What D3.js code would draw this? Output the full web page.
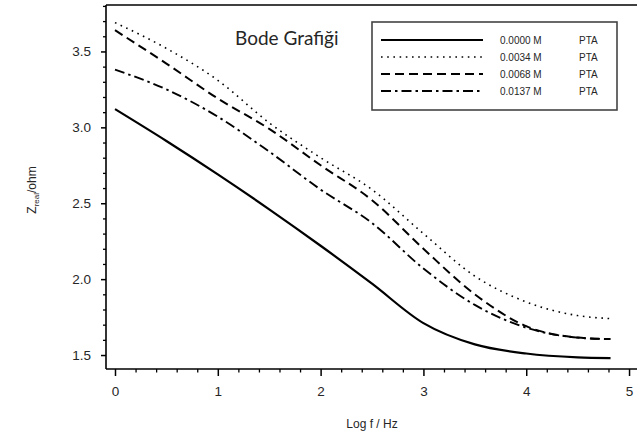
<!DOCTYPE html>
<html>
<head>
<meta charset="utf-8">
<script src="https://cdn.jsdelivr.net/npm/d3@7"></script>
<style>
  html, body { margin: 0; padding: 0; background: #fff; }
  svg { display: block; }
</style>
</head>
<body>
<svg id="chart" width="637" height="448"></svg>
<script>
// ---- data ----
const logF   = [0, 0.5, 1.0, 1.5, 2.0, 2.5, 3.0, 3.5, 4.0, 4.5, 4.82];
const z0000  = [3.12, 2.91, 2.69, 2.46, 2.22, 1.97, 1.71, 1.57, 1.51, 1.485, 1.48];
const z0034  = [3.69, 3.52, 3.31, 3.03, 2.80, 2.59, 2.30, 2.02, 1.85, 1.76, 1.74];
const z0068  = [3.64, 3.42, 3.19, 2.99, 2.75, 2.52, 2.20, 1.90, 1.69, 1.615, 1.605];
const z0137  = [3.38, 3.25, 3.07, 2.84, 2.59, 2.37, 2.07, 1.83, 1.68, 1.615, 1.605];
const seriesLabels = ["0.0000 M", "0.0034 M", "0.0068 M", "0.0137 M"];
const seriesUnit = "PTA";
const xTicks = [0, 1, 2, 3, 4, 5];
const yTicks = [1.5, 2.0, 2.5, 3.0, 3.5];
const title = "Bode Grafiği";
const xTitle = "Log f / Hz";

// ---- styling ----
const dashes = [null, "1.6,4.6", "9,5", "10,4,2.5,4"];
const widths = [2.2, 1.6, 2, 1.9];
const series = [z0000, z0034, z0068, z0137];

const svg = d3.select("#chart");
const x = d3.scaleLinear().domain([-0.0875, 5.2]).range([106, 649.6]);
const y = d3.scaleLinear().domain([1.408, 3.806]).range([369, 5]);

const textCol = "#262626";
const font = "Liberation Sans, Arial, sans-serif";

// bottom axis: minor then major ticks
const xMinor = d3.range(0, 5.21, 0.2).filter(v => Math.abs(v - Math.round(v)) > 1e-6);
svg.append("g").attr("transform", `translate(0,${y.range()[0]})`)
  .call(d3.axisBottom(x).tickValues(xMinor).tickSize(3.5).tickSizeOuter(0).tickFormat(""))
  .call(g => g.select(".domain").remove())
  .call(g => g.selectAll("line").attr("stroke", "#000").attr("stroke-width", 1.3));
svg.append("g").attr("transform", `translate(0,${y.range()[0]})`)
  .call(d3.axisBottom(x).tickValues(xTicks).tickSize(7).tickSizeOuter(0).tickPadding(10).tickFormat(d3.format("d")))
  .call(g => g.select(".domain").remove())
  .call(g => g.selectAll("line").attr("stroke", "#000").attr("stroke-width", 1.5))
  .call(g => g.selectAll("text").attr("font-family", font)
      .attr("font-size", 13.5).attr("fill", textCol));

// left axis: minor then major ticks
const yMinor = d3.range(1.5, 3.81, 0.1).filter(v => Math.abs(v * 2 - Math.round(v * 2)) > 1e-6);
svg.append("g").attr("transform", `translate(${x.range()[0]},0)`)
  .call(d3.axisLeft(y).tickValues(yMinor).tickSize(3).tickSizeOuter(0).tickFormat(""))
  .call(g => g.select(".domain").remove())
  .call(g => g.selectAll("line").attr("stroke", "#000").attr("stroke-width", 1.3));
svg.append("g").attr("transform", `translate(${x.range()[0]},0)`)
  .call(d3.axisLeft(y).tickValues(yTicks).tickSize(5).tickSizeOuter(0).tickPadding(10).tickFormat(d3.format(".1f")))
  .call(g => g.select(".domain").remove())
  .call(g => g.selectAll("line").attr("stroke", "#000").attr("stroke-width", 1.5))
  .call(g => g.selectAll("text").attr("font-family", font)
      .attr("font-size", 13.5).attr("fill", textCol));

// frame lines: left, bottom, top
const frame = svg.append("g").attr("stroke", "#000").attr("stroke-width", 1.6).attr("fill", "none");
frame.append("line").attr("x1", x.range()[0]).attr("x2", x.range()[0]).attr("y1", y.range()[1]).attr("y2", y.range()[0]);
frame.append("line").attr("x1", x.range()[0]).attr("x2", x.range()[1]).attr("y1", y.range()[0]).attr("y2", y.range()[0]);
frame.append("line").attr("x1", x.range()[0]).attr("x2", x.range()[1]).attr("y1", y.range()[1]).attr("y2", y.range()[1]);

// curves
const line = d3.line().x(d => x(d[0])).y(d => y(d[1])).curve(d3.curveMonotoneX);
series.forEach((s, i) => {
  svg.append("path")
    .datum(logF.map((f, j) => [f, s[j]]))
    .attr("d", line)
    .attr("fill", "none")
    .attr("stroke", "#000")
    .attr("stroke-width", widths[i])
    .attr("stroke-dasharray", dashes[i]);
});

// title
svg.append("text").attr("x", 235).attr("y", 45).text(title)
  .attr("font-family", "Lato, 'Open Sans', sans-serif").attr("font-size", 19).attr("fill", textCol);

// legend
const lg = svg.append("g");
lg.append("rect").attr("x", 372).attr("y", 22).attr("width", 245).attr("height", 88)
  .attr("fill", "#fff").attr("stroke", "#444").attr("stroke-width", 1.6);
series.forEach((s, i) => {
  const ry = 40 + i * 17;
  lg.append("line").attr("x1", 381).attr("x2", 483).attr("y1", ry).attr("y2", ry)
    .attr("stroke", "#000").attr("stroke-width", widths[i]).attr("stroke-dasharray", dashes[i]);
  lg.append("text").attr("x", 500).attr("y", ry).attr("dy", "0.35em").text(seriesLabels[i])
    .attr("font-family", font).attr("font-size", 10).attr("fill", textCol);
  lg.append("text").attr("x", 579).attr("y", ry).attr("dy", "0.35em").text(seriesUnit)
    .attr("font-family", font).attr("font-size", 10).attr("fill", textCol);
});

// axis titles
svg.append("text").attr("x", (x(0) + x(5)) / 2).attr("y", 428).attr("text-anchor", "middle").text(xTitle)
  .attr("font-family", font).attr("font-size", 12).attr("fill", textCol);
const yl = svg.append("text").attr("transform", "translate(36,190) rotate(-90)").attr("text-anchor", "middle")
  .attr("font-family", font).attr("font-size", 12).attr("fill", textCol);
yl.append("tspan").text("Z");
yl.append("tspan").attr("font-size", 8).attr("dy", 3).text("real");
yl.append("tspan").attr("dy", -3).text("/ohm");
</script>
</body>
</html>
